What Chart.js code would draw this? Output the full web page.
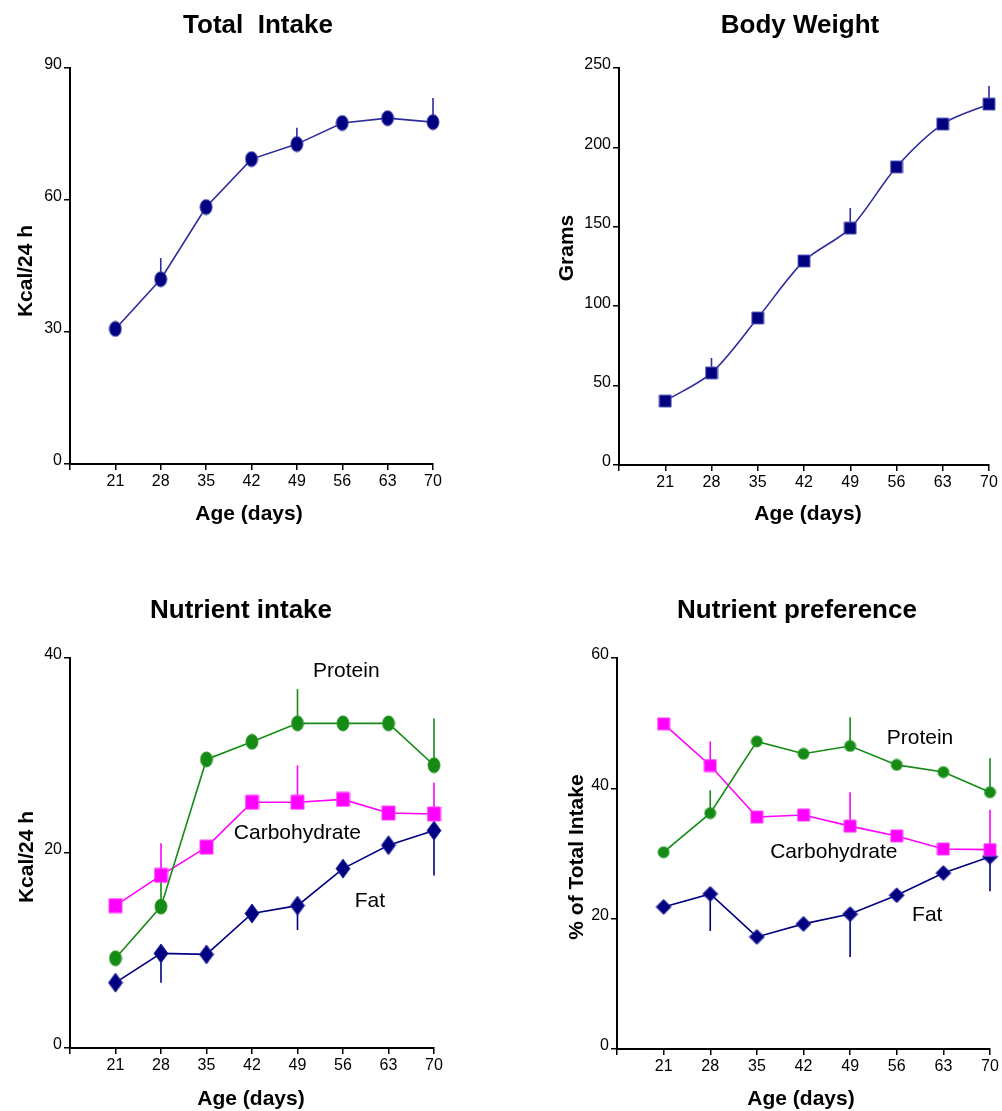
<!DOCTYPE html>
<html>
<head>
<meta charset="utf-8">
<script src="https://cdn.jsdelivr.net/npm/chart.js@4.4.1/dist/chart.umd.min.js"></script>
<style>
  body { margin: 0; background: #fff; }
  #page { position: relative; width: 1002px; height: 1111px; }
  canvas { position: absolute; }
</style>
</head>
<body>
<div id="page">
  <canvas id="intake" width="501" height="555" style="left:0;top:0"></canvas>
  <canvas id="weight" width="501" height="555" style="left:501px;top:0"></canvas>
  <canvas id="nutrient" width="501" height="556" style="left:0;top:555px"></canvas>
  <canvas id="preference" width="501" height="556" style="left:501px;top:555px"></canvas>
</div>
<script>
const ages = [21, 28, 35, 42, 49, 56, 63, 70];
const ageTicks = [14, 21, 28, 35, 42, 49, 56, 63, 70];

const totalIntake = [30.7, 42.0, 58.4, 69.3, 72.7, 77.5, 78.6, 77.7];
const totalIntakeSem = [0, 4.8, 0, 0, 3.7, 0, 0, 5.5];
const totalIntakeTicks = [0, 30, 60, 90];

const bodyWeight = [40.3, 58.0, 92.6, 128.5, 149.2, 187.7, 214.7, 227.3];
const bodyWeightSem = [0, 9.4, 0, 0, 12.6, 0, 0, 11.4];
const bodyWeightTicks = [0, 50, 100, 150, 200, 250];

// Nutrient intake, kcal/24 h
const proteinKcal = [9.2, 14.5, 29.6, 31.4, 33.3, 33.3, 33.3, 29.0];
const proteinKcalSem = [0, 3.0, 0, 0, 3.5, 0, 0, 4.8];
const carbKcal = [14.6, 17.7, 20.6, 25.2, 25.2, 25.5, 24.1, 24.0];
const carbKcalSem = [0, 3.3, 0, 0, 3.8, 0, 0, 3.2];
const fatKcal = [6.7, 9.7, 9.6, 13.8, 14.6, 18.4, 20.8, 22.3];
const fatKcalSem = [0, 3.0, 0, 0, 2.5, 0, 0, 4.6];
const nutrientTicks = [0, 20, 40];

// Nutrient preference, % of total intake
const proteinPct = [30.2, 36.2, 47.2, 45.3, 46.5, 43.6, 42.5, 39.4];
const proteinPctSem = [0, 3.5, 0, 0, 4.4, 0, 0, 5.2];
const carbPct = [49.9, 43.5, 35.6, 35.9, 34.2, 32.7, 30.7, 30.6];
const carbPctSem = [0, 3.7, 0, 0, 5.2, 0, 0, 6.1];
const fatPct = [21.8, 23.8, 17.2, 19.2, 20.7, 23.6, 27.0, 29.5];
const fatPctSem = [0, 5.7, 0, 0, 6.6, 0, 0, 5.3];
const preferenceTicks = [0, 20, 40, 60];

const FONT = '"Liberation Sans", Arial, sans-serif';
Chart.defaults.font.family = FONT;
Chart.defaults.color = '#000';

const NAVY = '#000080';
const GREEN = '#158a15';
const MAGENTA = '#ff00ff';

function marker(shape, w, h, fill, stroke) {
  const c = document.createElement('canvas');
  c.width = w + 2; c.height = h + 2;
  const g = c.getContext('2d');
  const cx = c.width / 2, cy = c.height / 2;
  g.beginPath();
  if (shape === 'ellipse') {
    g.ellipse(cx, cy, w / 2, h / 2, 0, 0, Math.PI * 2);
  } else if (shape === 'diamond') {
    g.moveTo(cx, cy - h / 2); g.lineTo(cx + w / 2, cy);
    g.lineTo(cx, cy + h / 2); g.lineTo(cx - w / 2, cy); g.closePath();
  } else {
    g.rect(cx - w / 2, cy - h / 2, w, h);
  }
  g.fillStyle = fill; g.fill();
  g.lineWidth = 1; g.strokeStyle = stroke; g.stroke();
  return c;
}

function pts(values) {
  return ages.map((a, i) => ({ x: a, y: values[i] }));
}

function series(values, sem, dir, color, pointStyle, extra) {
  return Object.assign({
    data: pts(values),
    sem: sem,
    semDir: dir,
    borderColor: color,
    borderWidth: 1.6,
    pointStyle: pointStyle,
    pointRadius: 6,
    pointHoverRadius: 6,
    tension: 0,
    clip: false
  }, extra || {});
}

function makeChart(id, cfg) {
  const canvas = document.getElementById(id);
  const W = canvas.width, H = canvas.height;
  const a = cfg.area;

  const deco = {
    id: 'deco',
    beforeDatasetsDraw(chart) {
      const ctx = chart.ctx, ys = chart.scales.y;
      chart.data.datasets.forEach((ds, di) => {
        const meta = chart.getDatasetMeta(di);
        ctx.save();
        ctx.strokeStyle = ds.borderColor;
        ctx.lineWidth = 1.6;
        ds.sem.forEach((s, i) => {
          if (!s) return;
          const p = meta.data[i];
          const v = ds.data[i].y;
          ctx.beginPath();
          ctx.moveTo(p.x, ys.getPixelForValue(v));
          ctx.lineTo(p.x, ys.getPixelForValue(v + ds.semDir * s));
          ctx.stroke();
        });
        ctx.restore();
      });
    },
    afterDraw(chart) {
      const ctx = chart.ctx;
      cfg.texts.forEach(t => {
        ctx.save();
        ctx.fillStyle = '#000';
        ctx.font = t.font;
        ctx.textAlign = t.align || 'center';
        ctx.textBaseline = 'alphabetic';
        let x = t.x, y = t.y;
        if (t.data) {
          x = chart.scales.x.getPixelForValue(t.x);
          y = chart.scales.y.getPixelForValue(t.y);
        }
        ctx.translate(x, y);
        if (t.rotate) ctx.rotate(t.rotate);
        ctx.fillText(t.text, 0, 0);
        ctx.restore();
      });
    }
  };

  return new Chart(canvas, {
    type: 'line',
    data: { datasets: cfg.datasets },
    options: {
      responsive: false,
      animation: false,
      events: [],
      layout: {
        padding: { left: 0, top: a.top, right: W - a.right, bottom: H - a.bottom - 30 }
      },
      plugins: { legend: { display: false }, tooltip: { enabled: false } },
      scales: {
        x: {
          type: 'linear',
          min: 14,
          max: 70,
          afterFit: s => { s.height = 30; },
          afterBuildTicks: s => { s.ticks = ageTicks.map(v => ({ value: v })); },
          border: { display: true, color: '#000', width: 2 },
          grid: { drawOnChartArea: false, drawTicks: true, tickLength: 6, color: '#000', lineWidth: 1.5 },
          ticks: {
            autoSkip: false,
            maxRotation: 0,
            padding: 2,
            font: { size: 16 },
            color: '#000',
            callback: v => (v === 14 ? '' : v)
          }
        },
        y: {
          type: 'linear',
          min: cfg.yTicks[0],
          max: cfg.yTicks[cfg.yTicks.length - 1],
          afterFit: s => { s.width = a.left; },
          afterBuildTicks: s => { s.ticks = cfg.yTicks.map(v => ({ value: v })); },
          border: { display: true, color: '#000', width: 2 },
          grid: { drawOnChartArea: false, drawTicks: true, tickLength: 6, color: '#000', lineWidth: 1.5 },
          ticks: { padding: 2, labelOffset: -3, font: { size: 16 }, color: '#000' }
        }
      }
    },
    plugins: [deco]
  });
}

const titleFont = 'bold 26px ' + FONT;
const axisFont = 'bold 21px ' + FONT;
const noteFont = '21px ' + FONT;
const UP = -Math.PI / 2;

makeChart('intake', {
  area: { left: 70, top: 68, right: 433, bottom: 464 },
  yTicks: totalIntakeTicks,
  datasets: [
    series(totalIntake, totalIntakeSem, 1, '#2c2c9e',
      marker('ellipse', 12, 15, NAVY, '#3a3aa8'))
  ],
  texts: [
    { text: 'Total  Intake', x: 258, y: 33, font: titleFont },
    { text: 'Kcal/24 h', x: 32, y: 271, font: axisFont, rotate: UP },
    { text: 'Age (days)', x: 249, y: 520, font: axisFont }
  ]
});

makeChart('weight', {
  area: { left: 118, top: 68, right: 488, bottom: 465 },
  yTicks: bodyWeightTicks,
  datasets: [
    series(bodyWeight, bodyWeightSem, 1, '#2c2c9e',
      marker('rect', 12, 12, NAVY, '#6262bc'), { tension: 0.3 })
  ],
  texts: [
    { text: 'Body Weight', x: 299, y: 33, font: titleFont },
    { text: 'Grams', x: 72, y: 248, font: axisFont, rotate: UP },
    { text: 'Age (days)', x: 307, y: 520, font: axisFont }
  ]
});

makeChart('nutrient', {
  area: { left: 70, top: 103, right: 434, bottom: 493 },
  yTicks: nutrientTicks,
  datasets: [
    series(proteinKcal, proteinKcalSem, 1, GREEN, marker('ellipse', 12, 15, GREEN, '#2a9a2a')),
    series(carbKcal, carbKcalSem, 1, MAGENTA, marker('rect', 13, 14, MAGENTA, '#ff40ff')),
    series(fatKcal, fatKcalSem, -1, NAVY, marker('diamond', 14, 19, NAVY, '#2a2aa0'))
  ],
  texts: [
    { text: 'Nutrient intake', x: 241, y: 63, font: titleFont },
    { text: 'Kcal/24 h', x: 33, y: 302, font: axisFont, rotate: UP },
    { text: 'Age (days)', x: 251, y: 550, font: axisFont },
    { text: 'Protein', x: 51.4, y: 38.05, data: true, align: 'left', font: noteFont },
    { text: 'Carbohydrate', x: 39.2, y: 21.4, data: true, align: 'left', font: noteFont },
    { text: 'Fat', x: 57.8, y: 14.5, data: true, align: 'left', font: noteFont }
  ]
});

makeChart('preference', {
  area: { left: 116, top: 103, right: 489, bottom: 494 },
  yTicks: preferenceTicks,
  datasets: [
    series(proteinPct, proteinPctSem, 1, GREEN, marker('ellipse', 11, 11, GREEN, '#2a9a2a')),
    series(carbPct, carbPctSem, 1, MAGENTA, marker('rect', 12, 12, MAGENTA, '#ff40ff')),
    series(fatPct, fatPctSem, -1, NAVY, marker('diamond', 15, 15, NAVY, '#2a2aa0'))
  ],
  texts: [
    { text: 'Nutrient preference', x: 296, y: 63, font: titleFont },
    { text: '% of Total Intake', x: 82, y: 302, font: axisFont, rotate: UP },
    { text: 'Age (days)', x: 300, y: 550, font: axisFont },
    { text: 'Protein', x: 54.5, y: 46.8, data: true, align: 'left', font: noteFont },
    { text: 'Carbohydrate', x: 37.0, y: 29.3, data: true, align: 'left', font: noteFont },
    { text: 'Fat', x: 58.3, y: 19.6, data: true, align: 'left', font: noteFont }
  ]
});
</script>
</body>
</html>
